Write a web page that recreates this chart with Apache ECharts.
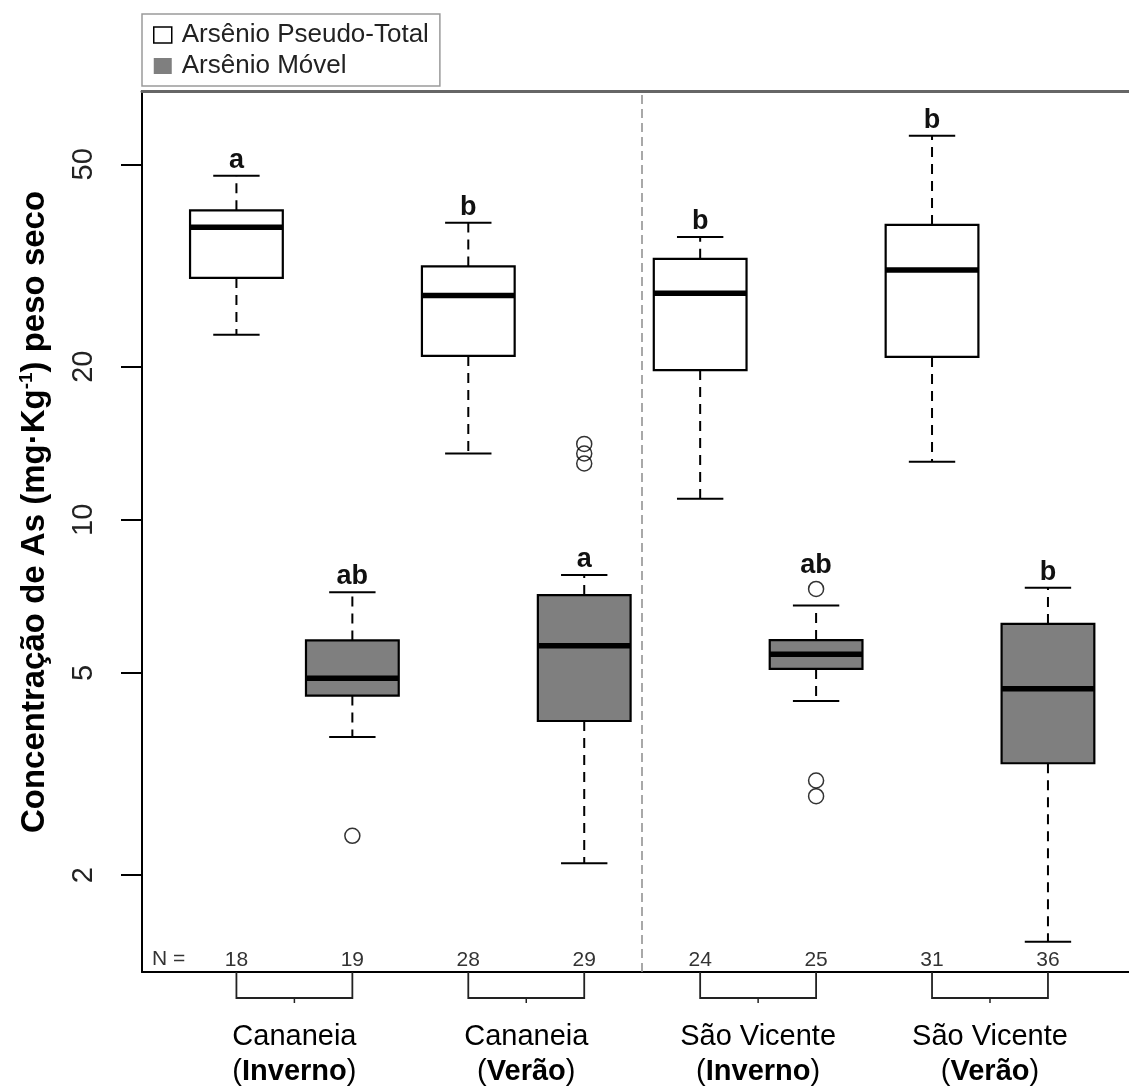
<!DOCTYPE html>
<html>
<head>
<meta charset="utf-8">
<title>Concentração de As</title>
<script src="https://cdn.jsdelivr.net/npm/echarts@6/dist/echarts.min.js"></script>
<style>
  html, body { margin: 0; padding: 0; background: #fff; }
  #grafico { width: 1129px; height: 1088px; }
</style>
</head>
<body>
<div id="grafico"></div>
<script>
// grupos: local + estação, cada um com uma caixa branca e uma cinza
const locais = ['Cananeia', 'Cananeia', 'São Vicente', 'São Vicente'];
const estacoes = ['Inverno', 'Verão', 'Inverno', 'Verão'];

// [mín, Q1, mediana, Q3, máx] (mg/kg)
const pseudoTotal = [
  [23.1, 29.9, 37.6, 40.6, 47.5],
  [13.5, 21.0, 27.6, 31.5, 38.4],
  [11.0, 19.7, 27.9, 32.6, 36.0],
  [13.0, 20.9, 31.0, 38.0, 56.9]
];
const movel = [
  [3.74, 4.51, 4.88, 5.79, 7.20],
  [2.11, 4.02, 5.65, 7.11, 7.79],
  [4.40, 5.09, 5.44, 5.80, 6.78],
  [1.48, 3.32, 4.65, 6.24, 7.35]
];
const outPseudo = [[], [], [], []];
const outMovel = [[2.39], [14.1, 13.5, 12.9], [7.31, 3.07, 2.86], []];

const nPseudo = [18, 28, 24, 31];
const nMovel = [19, 29, 25, 36];
const letrasPseudo = ['a', 'b', 'b', 'b'];
const letrasMovel = ['ab', 'a', 'ab', 'b'];

const yTicks = [2, 5, 10, 20, 50];
const yMin = 1.29, yMax = 69.7;

const lg = Math.log10;
const fonte = 'Liberation Sans, Arial, sans-serif';

// eixo y em log10: os dados vão transformados
// a letra fica sobre o bigode, ou sobre um outlier colado logo acima dele
function caixas(stats, outs, pos0) {
  return stats.map(function (s, i) {
    const perto = outs[i].filter(function (v) { return v > s[4] && v < s[4] * 1.3; });
    const topo = Math.max.apply(null, [s[4]].concat(perto));
    return [2 * i + pos0].concat(s.map(lg), [lg(topo), topo > s[4] ? 1 : 0]);
  });
}
function pontos(outs, pos0) {
  const r = [];
  outs.forEach(function (o, i) {
    o.forEach(function (v) { r.push([2 * i + pos0, lg(v)]); });
  });
  return r;
}

function desenhaCaixa(cor, letras, ns) {
  return function (params, api) {
    const x = api.value(0);
    const c = function (k) { return api.coord([x, api.value(k)]); };
    const cx = c(1)[0];
    const yMn = c(1)[1], yQ1 = c(2)[1], yMed = c(3)[1], yQ3 = c(4)[1], yMx = c(5)[1], yTop = c(6)[1];
    const yBase = api.coord([x, lg(yMin)])[1];
    const meia = api.size([0.8, 0])[0] / 2;
    const cap = meia / 2;
    const i = params.dataIndex;
    const tracejado = { stroke: '#000', lineWidth: 2, lineDash: [10, 7] };
    const solido = { stroke: '#000', lineWidth: 2 };
    return {
      type: 'group',
      children: [
        { type: 'line', shape: { x1: cx, y1: yQ3, x2: cx, y2: yMx }, style: tracejado },
        { type: 'line', shape: { x1: cx, y1: yQ1, x2: cx, y2: yMn }, style: tracejado },
        { type: 'line', shape: { x1: cx - cap, y1: yMx, x2: cx + cap, y2: yMx }, style: solido },
        { type: 'line', shape: { x1: cx - cap, y1: yMn, x2: cx + cap, y2: yMn }, style: solido },
        { type: 'rect', shape: { x: cx - meia, y: yQ3, width: 2 * meia, height: yQ1 - yQ3 },
          style: { fill: cor, stroke: '#000', lineWidth: 2.2 } },
        { type: 'line', shape: { x1: cx - meia, y1: yMed, x2: cx + meia, y2: yMed },
          style: { stroke: '#000', lineWidth: 5.5 } },
        { type: 'text', style: {
            x: cx, y: yTop - (api.value(7) ? 10 : 2), text: letras[i],
            fontSize: 27, fontWeight: 'bold', fontFamily: fonte, fill: '#111',
            align: 'center', verticalAlign: 'bottom' } },
        { type: 'text', style: {
            x: cx, y: yBase - 12, text: String(ns[i]),
            fontSize: 21, fontFamily: fonte, fill: '#333',
            align: 'center', verticalAlign: 'middle' } }
      ]
    };
  };
}

function desenhaGrupo(params, api) {
  const i = api.value(3);
  const a = api.coord([api.value(0), api.value(2)]);
  const b = api.coord([api.value(1), api.value(2)]);
  const y0 = a[1], y1 = a[1] + 26, xm = (a[0] + b[0]) / 2;
  return {
    type: 'group',
    children: [
      { type: 'polyline', shape: { points: [[a[0], y0], [a[0], y1], [b[0], y1], [b[0], y0]] },
        style: { stroke: '#222', lineWidth: 1.8, fill: null } },
      { type: 'line', shape: { x1: xm, y1: y1, x2: xm, y2: y1 + 5 }, style: { stroke: '#222', lineWidth: 1.5 } },
      { type: 'text', style: {
          x: xm, y: y0 + 82,
          text: '{n|' + locais[i] + '}\n{n|(}{b|' + estacoes[i] + '}{n|)}',
          rich: {
            n: { fontSize: 29, fontFamily: fonte, color: '#222', lineHeight: 35 },
            b: { fontSize: 29, fontFamily: fonte, fontWeight: 'bold', color: '#222', lineHeight: 35 }
          },
          align: 'center', verticalAlign: 'middle' } }
    ]
  };
}

const chart = echarts.init(document.getElementById('grafico'));
chart.setOption({
  animation: false,
  backgroundColor: '#fff',
  grid: { left: 142, right: 0, top: 91, bottom: 116 },
  legend: {
    orient: 'vertical', left: 142, top: 14,
    padding: [8, 11, 7, 11],
    itemGap: 5, itemWidth: 18, itemHeight: 16,
    borderColor: '#9a9a9a', borderWidth: 1.5,
    selectedMode: false,
    textStyle: { fontSize: 26, lineHeight: 26, color: '#222', fontFamily: fonte, padding: [0, 0, 0, 5] },
    data: [
      { name: 'Arsênio Pseudo-Total', icon: 'rect', itemStyle: { color: '#fff', borderColor: '#000', borderWidth: 1.5 } },
      { name: 'Arsênio Móvel', icon: 'rect', itemStyle: { color: '#7f7f7f', borderWidth: 0 } }
    ]
  },
  xAxis: [
    { type: 'value', min: 0.1855, max: 8.699, position: 'bottom',
      axisLine: { lineStyle: { color: '#000', width: 2 } },
      axisTick: { show: false }, axisLabel: { show: false }, splitLine: { show: false } },
    { type: 'value', min: 0.1855, max: 8.699, position: 'top',
      axisLine: { lineStyle: { color: '#666', width: 3 } },
      axisTick: { show: false }, axisLabel: { show: false }, splitLine: { show: false } }
  ],
  yAxis: {
    type: 'value', min: lg(yMin), max: lg(yMax),
    axisLine: { show: true, lineStyle: { color: '#000', width: 2 } },
    axisTick: { show: true, length: 21, lineStyle: { color: '#000', width: 2 }, customValues: yTicks.map(lg) },
    axisLabel: {
      customValues: yTicks.map(lg), rotate: 90, margin: 44,
      fontSize: 29, fontFamily: fonte, color: '#222',
      formatter: function (v) { return String(Math.round(Math.pow(10, v))); }
    },
    splitLine: { show: false }
  },
  graphic: [
    { type: 'text', x: 35, y: 512, rotation: Math.PI / 2,
      style: {
        text: '{t|Concentração de As (mg·Kg}{s|-1}{t|) peso seco}',
        rich: {
          t: { fontSize: 33, fontWeight: 'bold', fontFamily: fonte, color: '#111', lineHeight: 36 },
          s: { fontSize: 19, fontWeight: 'bold', fontFamily: fonte, color: '#111', lineHeight: 19, verticalAlign: 'top' }
        },
        align: 'center', verticalAlign: 'middle' } },
    { type: 'text', left: 152, top: 949,
      style: { text: 'N =', fontSize: 21, fontFamily: fonte, fill: '#333' } }
  ],
  series: [
    { name: 'Arsênio Pseudo-Total', type: 'custom', itemStyle: { color: '#fff', borderColor: '#000' },
      renderItem: desenhaCaixa('#fff', letrasPseudo, nPseudo),
      encode: { x: 0, y: [1, 2, 3, 4, 5] },
      data: caixas(pseudoTotal, outPseudo, 1), z: 3 },
    { name: 'Arsênio Móvel', type: 'custom', itemStyle: { color: '#7f7f7f' },
      renderItem: desenhaCaixa('#7f7f7f', letrasMovel, nMovel),
      encode: { x: 0, y: [1, 2, 3, 4, 5] },
      data: caixas(movel, outMovel, 2), z: 3 },
    { name: 'outliers', type: 'scatter', symbol: 'circle', symbolSize: 15,
      itemStyle: { color: 'rgba(0,0,0,0)', borderColor: '#000', borderWidth: 1.5 },
      data: pontos(outPseudo, 1).concat(pontos(outMovel, 2)), z: 4 },
    { name: 'grupos', type: 'custom', renderItem: desenhaGrupo,
      encode: { x: [0, 1], y: 2 },
      data: locais.map(function (l, i) { return [2 * i + 1, 2 * i + 2, lg(yMin), i]; }),
      markLine: {
        silent: true, symbol: ['none', 'none'], label: { show: false },
        lineStyle: { color: '#8c8c8c', width: 1.5, type: [9, 5] },
        data: [{ xAxis: 4.5 }]
      }, z: 2 }
  ]
});
</script>
</body>
</html>
